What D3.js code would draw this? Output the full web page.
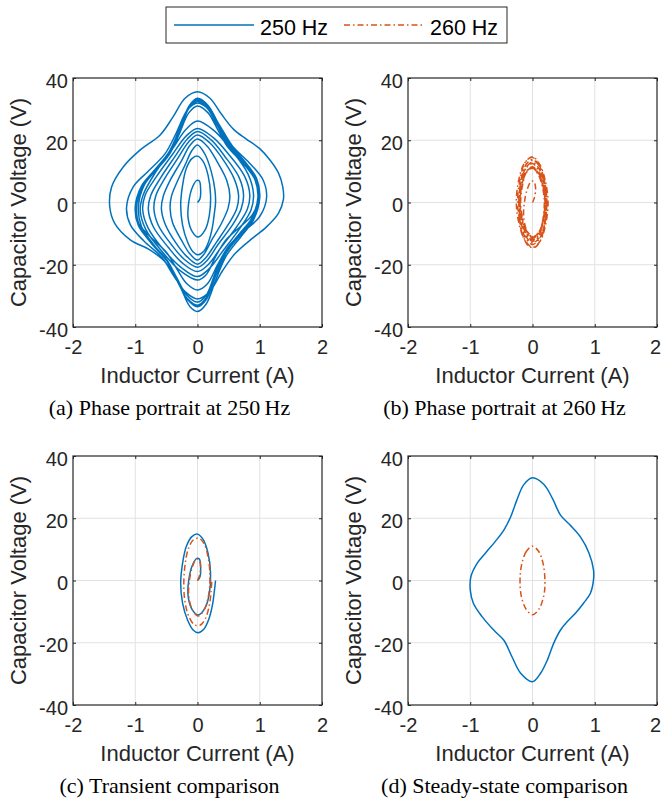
<!DOCTYPE html>
<html>
<head>
<meta charset="utf-8">
<script src="https://d3js.org/d3.v7.min.js"></script>
<style>
  body { margin: 0; background: #fff; }
</style>
</head>
<body>
<div id="my_dataviz"></div>
<script>

// ---- data (inductor current A, capacitor voltage V) ----
var xTicks = [-2, -1, 0, 1, 2];
var yTicks = [-40, -20, 0, 20, 40];
var seriesNames = ["250 Hz", "260 Hz"];
var captions = ["(a) Phase portrait at 250\u2009Hz", "(b) Phase portrait at 260\u2009Hz",
                "(c) Transient comparison", "(d) Steady-state comparison"];

// first cycles of the 250 Hz run
var transient250 = [[0,0],[0.04,1.2],[0.05,4.4],[0.03,6.9],[-0.01,7.1],[-0.08,5.0],[-0.14,0.2],[-0.15,-5.2],
  [-0.08,-9.5],[0.01,-11.1],[0.12,-8.9],[0.19,-4.1],[0.21,2.3],[0.17,8.7],[0.09,13.2],[0,14.9],[-0.09,14.1],
  [-0.18,10.9],[-0.24,5.5],[-0.27,-0.9],[-0.24,-7.3],[-0.16,-12.7],[-0.07,-15.9],[0.01,-16.8],[0.1,-15.7],
  [0.18,-12.5],[0.24,-7.9],[0.27,-3.6],[0.29,0]];

// rest of the 250 Hz run
var rest250 = [
  [0.28,4],[0.22,10],[0.12,15.5],[0,18.5],
  [-0.09,16.7],[-0.2,12],[-0.33,6.5],[-0.42,1.9],[-0.44,-1.9],[-0.4,-6.5],[-0.26,-12],[-0.13,-16.3],[0,-18.5],
  [0.1,-16.7],[0.23,-12],[0.39,-6.5],[0.49,-1.9],[0.52,2],[0.47,7.1],[0.31,13.3],[0.16,18],[0,20.4],
  [-0.12,18.4],[-0.26,13.3],[-0.44,7.1],[-0.55,2],[-0.58,-2],[-0.52,-6.9],[-0.35,-12.9],[-0.17,-17.4],[0,-19.8],
  [0.13,-17.8],[0.3,-12.9],[0.5,-6.9],[0.63,-2],[0.66,2.2],[0.59,7.6],[0.4,14.1],[0.2,19.1],[0,21.7],
  [-0.14,19.5],[-0.32,14.1],[-0.53,7.6],[-0.67,2.2],[-0.7,-2.1],[-0.63,-7.3],[-0.42,-13.5],[-0.21,-18.3],[0,-20.8],
  [0.15,-18.7],[0.33,-13.5],[0.56,-7.3],[0.7,-2.1],[0.74,2.3],[0.67,8],[0.44,14.8],[0.22,20.1],[0,22.8],
  [-0.16,20.5],[-0.36,14.8],[-0.59,8],[-0.75,2.3],[-0.79,-2.2],[-0.71,-7.8],[-0.47,-14.4],[-0.24,-19.5],[0,-22.2],
  [0.17,-20],[0.38,-14.4],[0.63,-7.8],[0.8,-2.2],[0.84,2.4],[0.76,8.3],[0.5,15.5],[0.25,20.9],[0,23.8],
  [-0.18,21.4],[-0.4,15.5],[-0.66,8.3],[-0.84,2.4],[-0.88,-2.4],[-0.79,-8.3],[-0.53,-15.5],[-0.26,-20.9],[0,-23.8],
  [0.18,-21.4],[0.41,-15.5],[0.68,-8.3],[0.86,-2.4],[0.9,2.6],[0.81,9.2],[0.54,17],[0.27,23],[0,26.2],
  [-0.18,23.6],[-0.41,17],[-0.69,9.2],[-0.87,2.6],[-0.92,-2.5],[-0.83,-8.7],[-0.55,-16.2],[-0.28,-21.9],[0,-24.9],
  [0.14,-23.2],[0.29,-17.4],[0.45,-12.2],[0.69,-7.7],[0.88,-4],[0.98,1.6],[0.93,7.1],[0.74,12.4],[0.49,17.7],[0.32,23.6],[0.17,28.8],[0,31],
  [-0.14,28.8],[-0.3,21.7],[-0.46,15.2],[-0.7,9.6],[-0.9,5],[-1.0,-1.4],[-0.95,-6.5],[-0.75,-11.2],[-0.5,-16],[-0.33,-21.4],[-0.17,-26.1],[0,-28.1],
  [0.16,-26.1],[0.33,-19.7],[0.51,-13.8],[0.78,-8.7],[1.0,-4.5],[1.11,1.6],[1.05,7.4],[0.83,12.8],[0.56,18.2],[0.37,24.3],[0.19,29.8],[0,32],
  [-0.16,29.8],[-0.34,22.4],[-0.52,15.7],[-0.8,9.9],[-1.03,5.1],[-1.14,-1.6],[-1.08,-7.1],[-0.86,-12.4],[-0.57,-17.7],[-0.38,-23.6],[-0.19,-28.8],[0,-31],
  [0.19,-28.8],[0.4,-22],[0.6,-16.5],[0.85,-12],[1.1,-8],[1.3,-3.5],[1.38,1],[1.37,5],[1.3,9.5],[1.17,13.5],[1.0,17.3],[0.79,20.3],[0.58,23.5],[0.38,28.5],[0.2,33.5],[0,35.6],
  [-0.2,33.5],[-0.39,27.6],[-0.6,21.7],[-0.92,16.9],[-1.19,11.5],[-1.38,5],[-1.41,-1.3],[-1.33,-6.7],[-1.08,-12],[-0.76,-15.3],[-0.5,-19.5],[-0.28,-27],[-0.12,-33.5],[0,-35],
  [0.14,-32.6],[0.3,-24.5],[0.46,-17.2],[0.7,-10.9],[0.9,-5.6],[1.0,1.7],[0.95,7.7],[0.75,13.4],[0.5,19.1],[0.33,25.5],[0.17,31.2],[0,33.5],
  [-0.13,31.2],[-0.29,23.5],[-0.44,16.4],[-0.67,10.4],[-0.86,5.4],[-0.95,-1.7],[-0.9,-7.7],[-0.71,-13.4],[-0.48,-19.1],[-0.31,-25.5],[-0.16,-31.2],[0,-33.5],
  [0.14,-31.2],[0.29,-23.5],[0.45,-16.4],[0.69,-10.4],[0.88,-5.4],[0.98,1.7],[0.93,7.6],[0.74,13.2],[0.49,18.8],[0.32,25.1],[0.17,30.7],[0,33],
  [-0.14,30.7],[-0.3,23.1],[-0.46,16.2],[-0.7,10.2],[-0.9,5.3],[-1.0,-1.6],[-0.95,-7.4],[-0.75,-12.8],[-0.5,-18.2],[-0.33,-24.3],[-0.17,-29.8],[0,-32],
  [0.14,-29.8],[0.29,-22.4],[0.45,-15.7],[0.68,-9.9],[0.87,-5.1],[0.97,1.6],[0.92,7.5],[0.73,13],[0.49,18.5],[0.32,24.7],[0.16,30.2],[0,32.5],
  [-0.14,30.2],[-0.29,22.8],[-0.45,15.9],[-0.69,10.1],[-0.88,5.2],[-0.98,-1.7],[-0.93,-7.6],[-0.74,-13.2],[-0.49,-18.8],[-0.32,-25.1],[-0.17,-30.7],[0,-33],
  [0.14,-30.7],[0.3,-23.1],[0.46,-16.2],[0.69,-10.2],[0.89,-5.3],[0.99,1.7],[0.94,7.6],[0.74,13.2],[0.5,18.8],[0.33,25.1],[0.17,30.7],[0,33]
];

// first cycles of the 260 Hz run
var transient260 = [[0,0],[0.03,1.5],[0.05,4.5],[0.02,6.8],[-0.02,6.8],[-0.08,4.5],[-0.13,0],[-0.14,-5],
  [-0.08,-9.5],[0.01,-11.4],[0.11,-9.3],[0.18,-4.5],[0.2,1.5],[0.17,7.5],[0.1,12],[0.02,13.6],[-0.07,13],
  [-0.15,10],[-0.2,5],[-0.22,-1],[-0.2,-7],[-0.14,-11.5],[-0.05,-14.2],[0.04,-14.4],[0.12,-12.5],[0.19,-8],
  [0.22,-3],[0.23,0]];

// rest of the 260 Hz run
var rest260 = [
  [0.21,5],[0.13,11],[0,14.5],
  [-0.13,12.6],[-0.22,7.3],[-0.26,0],[-0.22,-6.5],[-0.13,-11.8],[0,-14.4],
  [0.12,-12.5],[0.21,-7.2],[0.25,0],[0.21,6.6],[0.12,12.1],[0,14.7],
  [-0.12,12.8],[-0.2,7.4],[-0.24,0],[-0.2,-6.1],[-0.12,-11.1],[0,-13.5],
  [0.11,-11.7],[0.19,-6.8],[0.22,0],[0.19,5.9],[0.11,10.7],[0,13],
  [-0.1,11.3],[-0.18,6.5],[-0.21,0],[-0.18,-5.4],[-0.1,-9.8],[0,-12],
  [0.1,-10.4],[0.17,-6],[0.2,0],[0.17,5.2],[0.1,9.4],[0,11.5],
  [-0.1,10],[-0.17,5.8],[-0.2,0],[-0.17,-5.2],[-0.1,-9.4],[0,-11.5],
  [0.1,-10],[0.18,-5.8],[0.21,0],[0.18,5.6],[0.1,10.2],[0,12.5],
  [-0.11,10.9],[-0.19,6.3],[-0.22,0],[-0.19,-5.9],[-0.11,-10.7],[0,-13],
  [0.11,-11.3],[0.2,-6.5],[0.23,0],[0.2,6.2],[0.12,11.3],[0,13.8],
  [-0.11,12],[-0.18,6.9],[-0.21,0],[-0.18,-5.6],[-0.1,-10.2],[0,-12.5],
  [0.1,-10.9],[0.16,-6.3],[0.19,0],[0.16,5],[0.09,9],[0,11],
  [-0.1,9.6],[-0.17,5.5],[-0.2,0],[-0.17,-5],[-0.1,-9],[0,-11],
  [0.1,-9.6],[0.17,-5.5],[0.2,0],[0.17,5],[0.1,9],[0,11],
  [-0.1,9.6],[-0.16,5.5],[-0.19,0],[-0.16,-5.1],[-0.1,-9.2],[0,-11.2],
  [0.1,-9.7],[0.17,-5.6],[0.2,0],[0.17,5.1],[0.1,9.3],[0,11.3],
  [-0.1,9.8],[-0.17,5.7],[-0.2,0],[-0.17,-5],[-0.1,-9],[0,-11]
];

// one steady-state cycle of each (closed loops)
var steady250 = [[0,33],[-0.14,30.8],[-0.25,25.9],[-0.35,20.5],[-0.46,16.2],[-0.6,12.5],[-0.76,8.7],[-0.89,5.5],
  [-0.99,1.2],[-1.0,-3],[-0.95,-7.3],[-0.81,-11.6],[-0.62,-16],[-0.46,-19.2],[-0.33,-24.5],[-0.19,-29.8],[0,-32.5],
  [0.13,-29.8],[0.24,-25.5],[0.34,-20.2],[0.45,-15.9],[0.56,-13.2],[0.69,-10.5],[0.82,-7.3],[0.93,-4.1],[0.98,0.2],
  [0.98,3.4],[0.91,8.7],[0.77,14],[0.6,17.9],[0.45,21],[0.32,26.4],[0.18,30.9]];
var steady260 = [[0,11],[-0.1,9.3],[-0.17,5.5],[-0.2,0.5],[-0.18,-5],[-0.1,-9.3],[0,-11],
  [0.1,-9.3],[0.18,-5],[0.2,-0.5],[0.17,5.5],[0.1,9.3]];

// ---- styles ----
var colors = ["#0072BD", "#D95319"];
var dashes = [null, "6,3,1.5,3"];
var axisColor = "#262626";
var sans = "'Liberation Sans', Arial, Helvetica, sans-serif";

var size = 249;
var panels = [
  {left: 73,  top: 78,  caption: captions[0], lines: [{pts: transient250.concat(rest250), s: 0}]},
  {left: 408, top: 78,  caption: captions[1], lines: [{pts: transient260.concat(rest260), s: 1}]},
  {left: 73,  top: 456, caption: captions[2], lines: [{pts: transient250, s: 0}, {pts: transient260, s: 1}]},
  {left: 408, top: 456, caption: captions[3], lines: [{pts: steady250, s: 0, closed: true}, {pts: steady260, s: 1, closed: true}]}
];

var svg = d3.select("#my_dataviz")
  .append("svg")
    .attr("width", 661)
    .attr("height", 800)
    .style("background", "#fff");

var x = d3.scaleLinear().domain([-2, 2]).range([0, size]);
var y = d3.scaleLinear().domain([-40, 40]).range([size, 0]);

var fmt = function (d) { return String(d); };

panels.forEach(function (p) {
  var g = svg.append("g")
      .attr("transform", "translate(" + p.left + "," + p.top + ")");

  // grid
  g.selectAll(".gx").data(xTicks.slice(1, -1)).enter().append("line")
    .attr("x1", function (d) { return x(d); }).attr("x2", function (d) { return x(d); })
    .attr("y1", 0).attr("y2", size)
    .attr("stroke", "#e2e2e2").attr("stroke-width", 1);
  g.selectAll(".gy").data(yTicks.slice(1, -1)).enter().append("line")
    .attr("y1", function (d) { return y(d); }).attr("y2", function (d) { return y(d); })
    .attr("x1", 0).attr("x2", size)
    .attr("stroke", "#e2e2e2").attr("stroke-width", 1);

  // traces
  p.lines.forEach(function (l) {
    var line = d3.line()
      .x(function (d) { return x(d[0]); })
      .y(function (d) { return y(d[1]); })
      .curve(l.closed ? d3.curveCatmullRomClosed.alpha(0.5) : d3.curveCatmullRom.alpha(0.5));
    g.append("path")
      .datum(l.pts)
      .attr("d", line)
      .attr("fill", "none")
      .attr("stroke", colors[l.s])
      .attr("stroke-width", 1.5)
      .attr("stroke-linejoin", "round")
      .attr("stroke-dasharray", dashes[l.s]);
  });

  // axes, ticks pointing in
  var gb = g.append("g").attr("transform", "translate(0," + size + ")")
    .call(d3.axisBottom(x).tickValues(xTicks).tickFormat(fmt).tickSizeInner(-3).tickSizeOuter(0).tickPadding(13));
  var gl = g.append("g")
    .call(d3.axisLeft(y).tickValues(yTicks).tickFormat(fmt).tickSizeInner(-3).tickSizeOuter(0).tickPadding(5));
  g.append("g")
    .call(d3.axisTop(x).tickValues(xTicks).tickFormat("").tickSizeInner(-3).tickSizeOuter(0));
  g.append("g").attr("transform", "translate(" + size + ",0)")
    .call(d3.axisRight(y).tickValues(yTicks).tickFormat("").tickSizeInner(-3).tickSizeOuter(0));

  g.selectAll(".domain").remove();
  g.selectAll(".tick line").attr("stroke", axisColor);
  g.selectAll(".tick text")
    .attr("fill", axisColor)
    .style("font-family", sans)
    .style("font-size", "20px");
  gl.selectAll(".tick text").attr("dy", "0.45em");
  // keep the last x label inside the page on the right column
  if (p.left + size > 640) {
    gb.selectAll(".tick text").filter(function (d) { return d === 2; }).attr("x", -2);
  }

  // box
  g.append("rect")
    .attr("width", size).attr("height", size)
    .attr("fill", "none")
    .attr("stroke", axisColor)
    .attr("stroke-width", 1.2);

  // labels
  g.append("text")
    .attr("x", size / 2).attr("y", size + 56)
    .attr("text-anchor", "middle")
    .attr("fill", axisColor)
    .style("font-family", sans).style("font-size", "22px")
    .text("Inductor Current (A)");
  g.append("text")
    .attr("transform", "translate(-47," + size / 2 + ") rotate(-90)")
    .attr("text-anchor", "middle")
    .attr("fill", axisColor)
    .style("font-family", sans).style("font-size", "22px")
    .text("Capacitor Voltage (V)");

  // sub caption, centred on the whole sub figure
  g.append("text")
    .attr("x", size / 2 - 28).attr("y", size + 88)
    .attr("text-anchor", "middle")
    .attr("fill", "#000")
    .style("font-family", "'Liberation Serif', 'Times New Roman', serif")
    .style("font-size", "22px")
    .text(p.caption);
});

// legend
var leg = svg.append("g");
leg.append("rect")
  .attr("x", 166).attr("y", 7).attr("width", 341).attr("height", 36)
  .attr("fill", "#fff").attr("stroke", axisColor).attr("stroke-width", 1);
var legX = [174, 344];
seriesNames.forEach(function (name, i) {
  leg.append("line")
    .attr("x1", legX[i]).attr("x2", legX[i] + 80)
    .attr("y1", 25).attr("y2", 25)
    .attr("stroke", colors[i]).attr("stroke-width", 1.5)
    .attr("stroke-dasharray", dashes[i]);
  leg.append("text")
    .attr("x", legX[i] + 86).attr("y", 34.5)
    .attr("fill", "#000")
    .style("font-family", sans).style("font-size", "21.5px")
    .text(name);
});

</script>
</body>
</html>
